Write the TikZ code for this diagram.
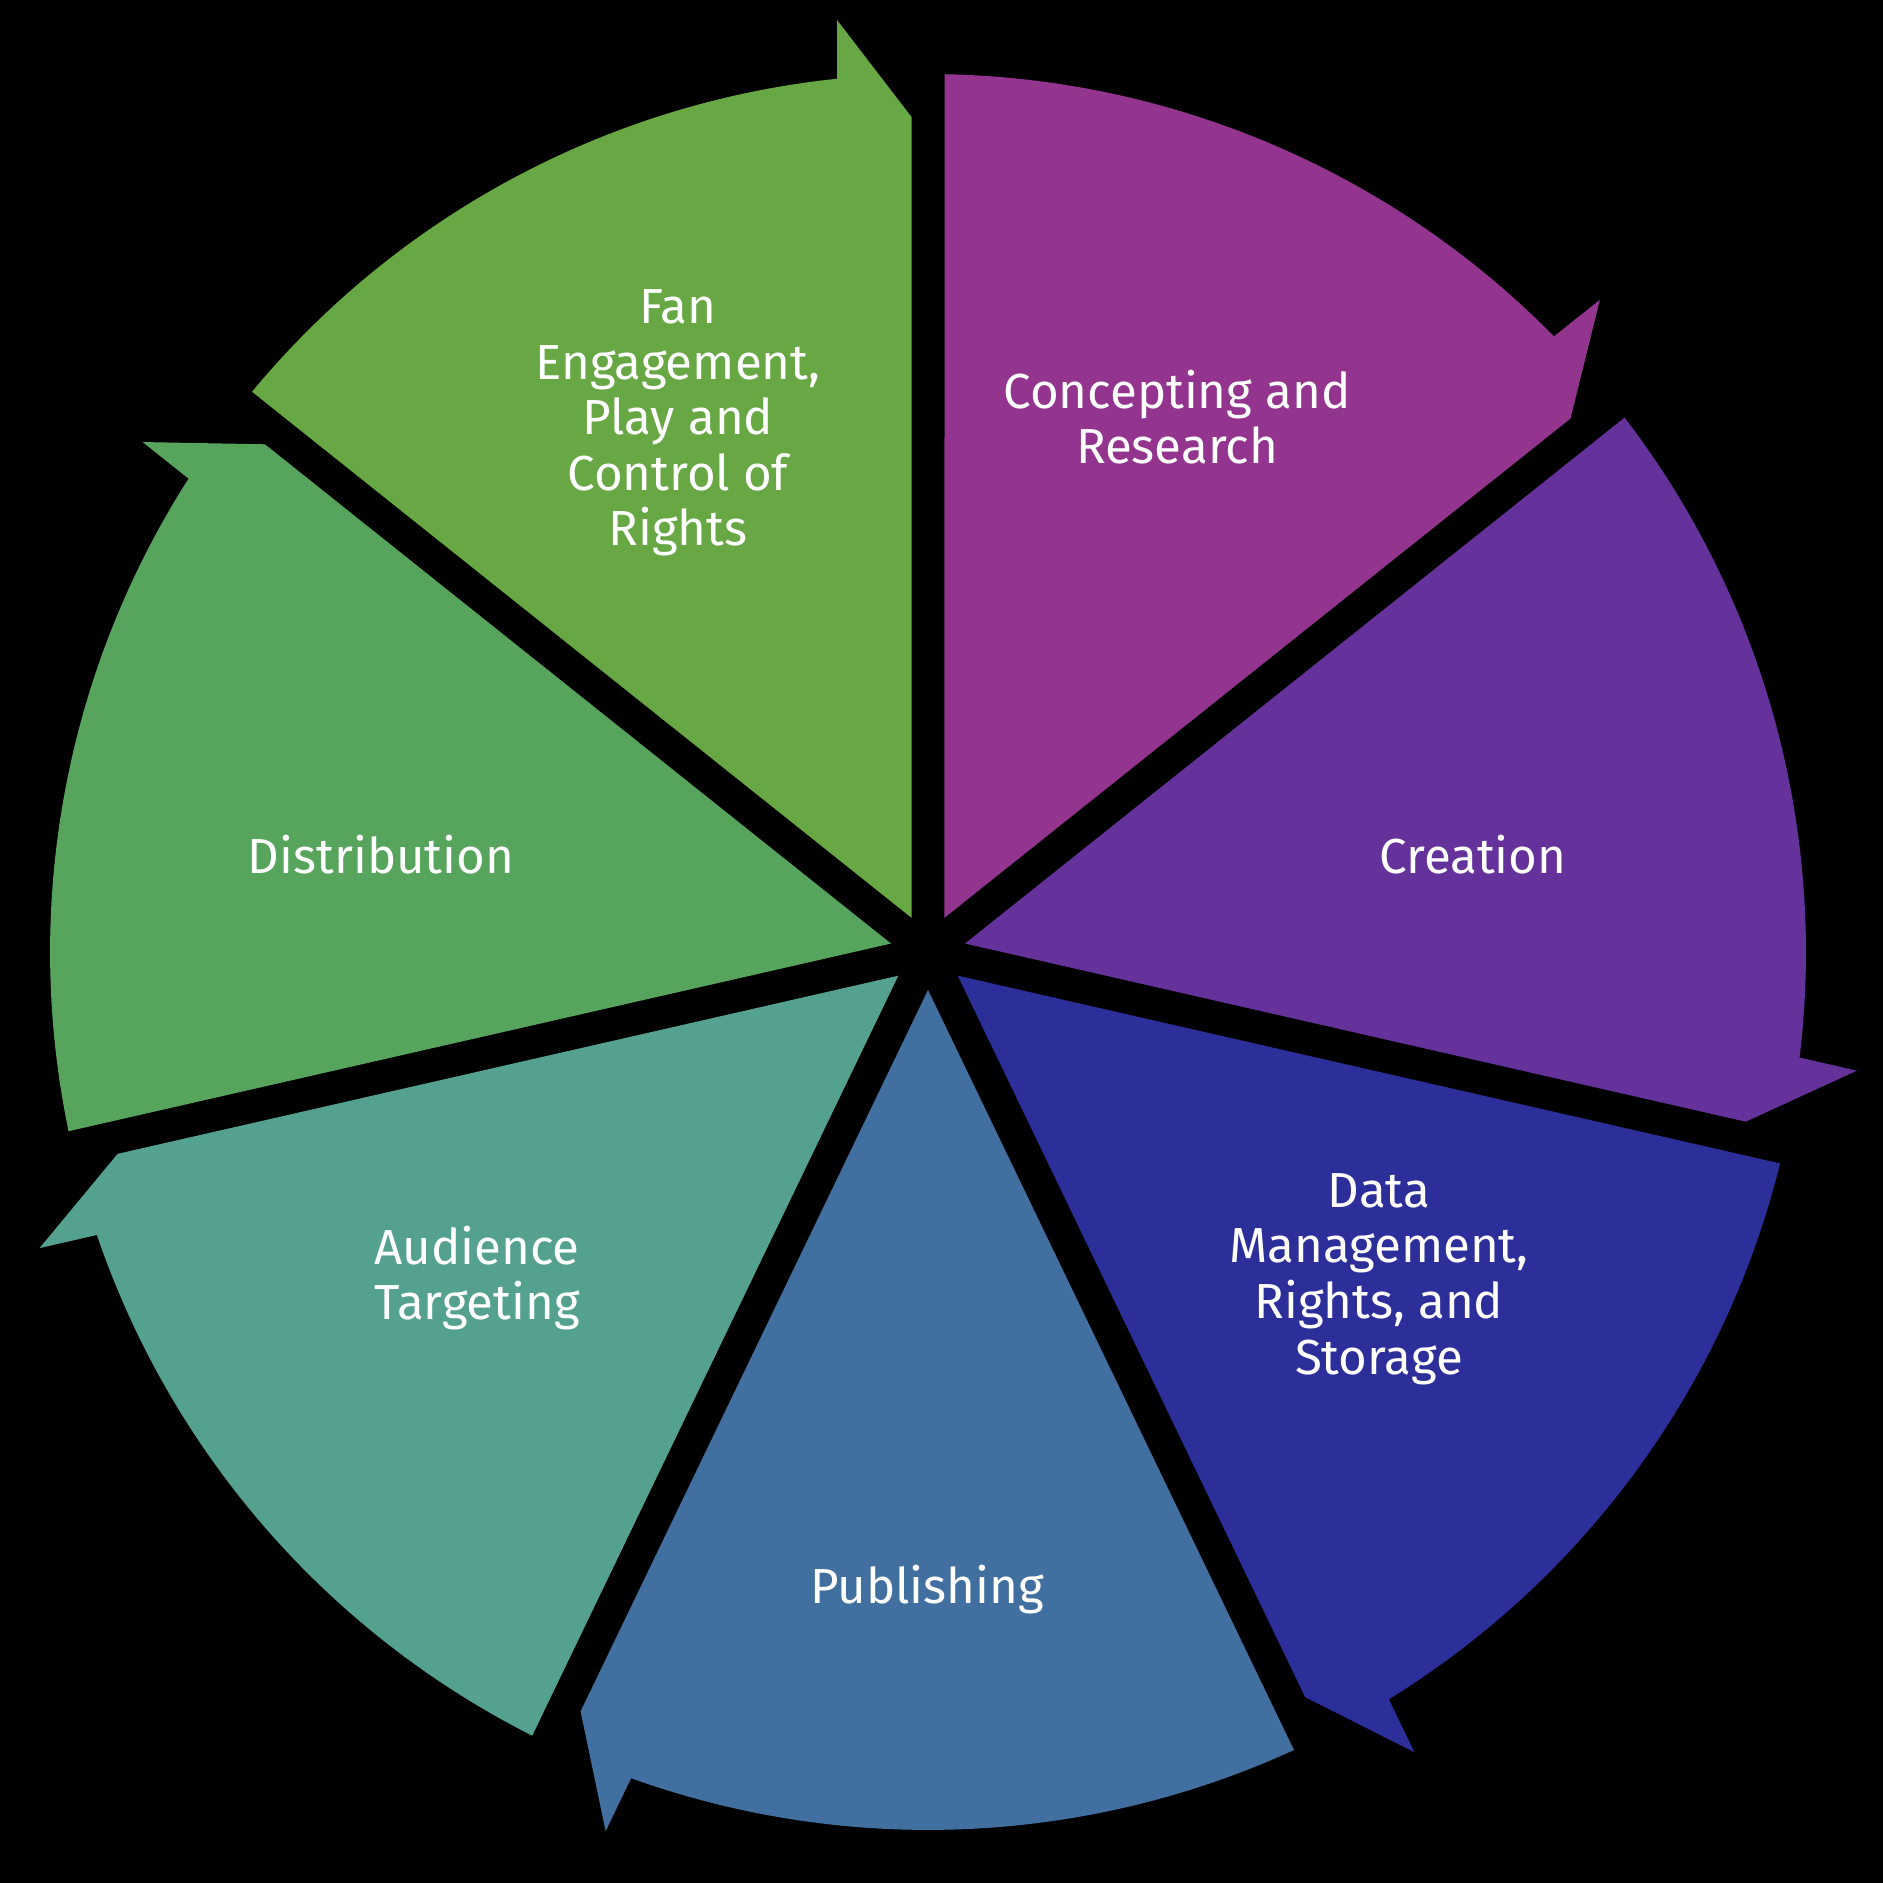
\documentclass[tikz,border=0pt]{standalone}
\usepackage{fontspec}
\setmainfont{Fira Sans}
\usepackage{tikz}
\definecolor{Concept}{HTML}{93358E}
\definecolor{Create}{HTML}{65319A}
\definecolor{DataM}{HTML}{2C2F9A}
\definecolor{Publish}{HTML}{4170A0}
\definecolor{Audience}{HTML}{55A190}
\definecolor{Distrib}{HTML}{57A45C}
\definecolor{FanEng}{HTML}{67A744}
\begin{document}
\begin{tikzpicture}[
  x=0.01cm, y=0.01cm,
  lbl/.style={text=white, align=center, font=\fontsize{14}{15.8}\selectfont}
]
  % black page
  \fill[black] (-928,-931) rectangle (955,952);
  % segments, clockwise from the top, arrow tip at the clockwise end
  \foreach \segcol [count=\i from 0] in {Concept,Create,DataM,Publish,Audience,Distrib,FanEng}{
    \pgfmathsetmacro{\endang}{90-51.4286*(\i+1)}
    \fill[\segcol, rotate=\endang] (34.2,16.5) -- (835,16.5) -- (932,91)
      -- (5.95:878) arc[start angle=5.95, end angle=50.35, radius=878] -- cycle;
  }

  \node[lbl] (concept) at (249,535) {Concepting and\\Research};
  \node[lbl] (create) at (545,97) {Creation};
  \node[lbl] (datam) at (451,-327) {Data\\Management,\\Rights, and\\Storage};
  \node[lbl] (publish) at (-1,-638) {Publishing};
  \node[lbl] (audience) at (-451,-326) {Audience\\Targeting};
  \node[lbl] (distrib) at (-547,97) {Distribution};
  \node[lbl] (faneng) at (-250,529) {Fan\\Engagement,\\Play and\\Control of\\Rights};
\end{tikzpicture}
\end{document}
